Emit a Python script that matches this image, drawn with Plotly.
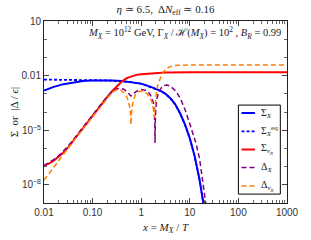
import plotly.graph_objects as go

# ---- data (log10 values) ----
lx_sigX = [-2.0,-1.8,-1.6,-1.4,-1.2,-1.0,-0.8,-0.6,-0.4,-0.2,0.0,0.2,0.4,0.5,0.6,0.7,0.8,0.9,1.0,1.1,1.2,1.3,1.36]
ly_sigX = [-2.82,-2.62,-2.47,-2.37,-2.30,-2.27,-2.26,-2.27,-2.30,-2.35,-2.44,-2.62,-2.84,-3.00,-3.24,-3.58,-4.07,-4.68,-5.44,-6.43,-7.71,-9.35,-10.4]

lx_eq = [-2.0,-1.8,-1.6,-1.4,-1.2,-1.0,-0.8,-0.6,-0.4,-0.2,0.0,0.2,0.4,0.5,0.6,0.7,0.8,0.9,1.0,1.1,1.2,1.3,1.36]
ly_eq = [-2.22,-2.22,-2.22,-2.22,-2.23,-2.24,-2.26,-2.28,-2.31,-2.36,-2.45,-2.63,-2.85,-3.01,-3.25,-3.59,-4.08,-4.69,-5.45,-6.44,-7.72,-9.36,-10.4]

lx_sigN = [-2.0,-1.9,-1.8,-1.7,-1.6,-1.5,-1.4,-1.2,-1.0,-0.8,-0.7,-0.6,-0.5,-0.4,-0.3,-0.2,-0.1,0.0,0.2,0.5,1.0,2.0,3.0]
ly_sigN = [-6.95,-6.84,-6.68,-6.48,-6.23,-5.93,-5.58,-4.92,-4.22,-3.52,-3.18,-2.86,-2.58,-2.33,-2.14,-2.03,-1.96,-1.92,-1.87,-1.83,-1.81,-1.81,-1.81]

lx_dX = [-2.0,-1.9,-1.8,-1.7,-1.6,-1.5,-1.4,-1.2,-1.0,-0.8,-0.7,-0.6,-0.5,-0.42,-0.35,-0.28,-0.21,-0.14,-0.07,0.0,0.08,0.15,0.21,0.25,0.27,0.28,0.285,0.29,0.30,0.32,0.36,0.42,0.48,0.53,0.6,0.7,0.8,0.9,1.0,1.06,1.125,1.2,1.26,1.33,1.4]
ly_dX = [-6.95,-6.80,-6.62,-6.41,-6.16,-5.87,-5.53,-4.86,-4.17,-3.48,-3.15,-2.88,-2.72,-2.70,-2.76,-2.92,-3.12,-2.95,-2.82,-2.77,-2.80,-2.92,-3.15,-3.5,-3.95,-4.6,-5.7,-4.6,-3.9,-3.3,-2.9,-2.65,-2.54,-2.52,-2.58,-2.82,-3.22,-3.85,-4.65,-5.15,-5.7,-6.55,-7.6,-9.0,-10.4]

lx_dN = [-2.0,-1.8,-1.6,-1.4,-1.3,-1.2,-1.0,-0.8,-0.7,-0.6,-0.5,-0.42,-0.35,-0.3,-0.26,-0.23,-0.215,-0.21,-0.205,-0.19,-0.16,-0.12,-0.06,0.0,0.06,0.12,0.18,0.22,0.245,0.26,0.27,0.28,0.29,0.31,0.34,0.38,0.43,0.47,0.52,0.57,0.62,0.67,0.75,0.85,1.0,2.0,3.0]
ly_dN = [-7.74,-7.02,-6.30,-5.60,-5.27,-4.94,-4.25,-3.56,-3.22,-2.92,-2.78,-2.80,-2.95,-3.15,-3.45,-3.85,-4.3,-4.7,-4.3,-3.8,-3.35,-3.05,-2.9,-2.85,-2.88,-3.0,-3.2,-3.45,-3.7,-3.95,-4.3,-3.95,-3.5,-3.0,-2.55,-2.2,-1.88,-1.76,-1.62,-1.54,-1.48,-1.45,-1.43,-1.42,-1.42,-1.42,-1.42]

x_tickvals = [0.01, 0.1, 1, 10, 100, 1000]
x_ticktext = ["0.01", "0.10", "1", "10", "100", "1000"]
y_tickvals = [10, 0.01, 1e-5, 1e-8]
y_ticktext = ["10", "0.01", "10<sup>−5</sup>", "10<sup>−8</sup>"]

series_names = ["Σ<sub><i>X</i></sub>", "Σ<sub><i>X</i></sub><sup>eq</sup>", "Σ<sub><i>ν<sub>R</sub></i></sub>",
                "Δ<sub><i>X</i></sub>", "Δ<sub><i>ν<sub>R</sub></i></sub>"]


def p(v):
    return [10 ** a for a in v]


SERIF = "Liberation Serif"
SANS = "Liberation Sans"
styles = [
    dict(color="#0000FF", width=2),
    dict(color="#0000FF", width=1.8, dash="3px,2px"),
    dict(color="#FF0000", width=2),
    dict(color="#800080", width=1.5, dash="5px,3px"),
    dict(color="#FF8000", width=1.5, dash="5px,3px"),
]
data = [(lx_sigX, ly_sigX), (lx_eq, ly_eq), (lx_sigN, ly_sigN), (lx_dX, ly_dX), (lx_dN, ly_dN)]

fig = go.Figure()
for (lx, ly), name, st in zip(data, series_names, styles):
    fig.add_trace(go.Scatter(x=p(lx), y=p(ly), mode="lines", name=name, line=st, showlegend=False))

minor_x = [k * 10 ** n for n in range(-2, 3) for k in range(2, 10)]
minor_y = [10 ** n for n in range(-9, 2)]

axis_common = dict(showline=True, linecolor="#222", linewidth=1, mirror="allticks",
                   ticks="inside", ticklen=5, tickcolor="#444", showgrid=False, zeroline=False,
                   tickfont=dict(family=SANS, size=10, color="#333"))

fig.update_layout(
    width=311, height=240,
    margin=dict(l=44, r=12, t=21, b=37),
    plot_bgcolor="white", paper_bgcolor="white",
    xaxis=dict(type="log", range=[-2, 3], tickmode="array", tickvals=x_tickvals, ticktext=x_ticktext,
               minor=dict(tickvals=minor_x, ticks="inside", ticklen=3, tickcolor="#666"), **axis_common),
    yaxis=dict(type="log", range=[-9, 1], tickmode="array", tickvals=y_tickvals, ticktext=y_ticktext,
               minor=dict(tickvals=minor_y, ticks="inside", ticklen=3, tickcolor="#666"), **axis_common),
    showlegend=False,
    title=dict(text="<i>η</i> ≃ 6.5,  Δ<i>N</i><sub>eff</sub> ≃ 0.16", x=0.5, xref="paper",
               y=1 - 9 / 240, yref="container", yanchor="middle",
               font=dict(family=SERIF, size=11, color="#222")),
)

# legend box drawn by hand (compact, like the reference)
leg_x0, leg_x1, leg_y0, leg_y1 = 0.800, 0.9725, 0.049, 0.538
fig.add_shape(type="rect", xref="paper", yref="paper", x0=leg_x0, x1=leg_x1, y0=leg_y0, y1=leg_y1,
              line=dict(color="black", width=1), fillcolor="white", layer="above")
leg_rows = [0.4945, 0.393, 0.294, 0.195, 0.093]
for yy, name, st in zip(leg_rows, series_names, styles):
    fig.add_shape(type="line", xref="paper", yref="paper", x0=0.813, x1=0.868, y0=yy, y1=yy,
                  line=st, layer="above")
    fig.add_annotation(text=name, xref="paper", yref="paper", x=0.885, y=yy, xanchor="left",
                       yanchor="middle", showarrow=False, font=dict(family=SERIF, size=10, color="#222"))

fig.add_annotation(text="<i>M<sub>X</sub></i> = 10<sup>12</sup> GeV, Γ<sub><i>X</i></sub> / ℋ(<i>M<sub>X</sub></i>) = 10<sup>2</sup> , <i>B<sub>R</sub></i> = 0.99",
                   xref="paper", yref="paper", x=0.983, y=0.934, xanchor="right", yanchor="middle",
                   showarrow=False, font=dict(family=SERIF, size=10.5, color="#222"))
fig.add_annotation(text="<i>x</i> = <i>M<sub>X</sub></i> / <i>T</i>", xref="paper", yref="paper",
                   x=0.5, y=-0.14, xanchor="center", yanchor="middle", showarrow=False,
                   font=dict(family=SERIF, size=11, color="#222"))
fig.add_annotation(text="Σ  or  |Δ / <i>ϵ</i>|", xref="paper", yref="paper", x=-0.122, y=0.5,
                   xanchor="center", yanchor="middle", textangle=-90, showarrow=False,
                   font=dict(family=SERIF, size=11, color="#222"))

fig.write_html("out.html", config={"displayModeBar": False},
               post_script="document.body.style.margin='0';")
